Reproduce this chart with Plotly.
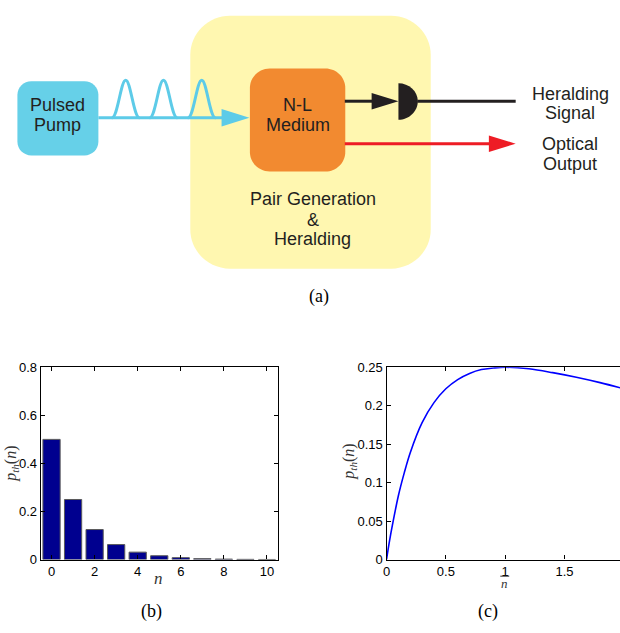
import plotly.graph_objects as go

W, H = 620, 633

# ---------------- data ----------------
n_vals = [0, 1, 2, 3, 4, 5, 6, 7, 8, 9, 10]
p_th_n = [0.5, 0.25, 0.125, 0.0625, 0.031, 0.016, 0.008, 0.004, 0.002, 0.001, 0.0005]

nbar_vals = [0, 0.025, 0.05, 0.1, 0.15, 0.2, 0.3, 0.4, 0.5, 0.6, 0.7, 0.8, 0.9, 1.0,
             1.2, 1.4, 1.6, 1.8, 2.0]
p_th_nbar = [0, 0.024, 0.045, 0.083, 0.113, 0.139, 0.178, 0.204, 0.222, 0.234, 0.242,
             0.247, 0.249, 0.25, 0.248, 0.243, 0.237, 0.230, 0.222]

b_xticks = [0, 2, 4, 6, 8, 10]
b_yticks = [0, 0.2, 0.4, 0.6, 0.8]
c_xticks = [0, 0.5, 1, 1.5]
c_xticklabels = ["0", "0.5", "1", "1.5"]
c_yticks = [0, 0.05, 0.1, 0.15, 0.2, 0.25]

SANS = "Liberation Sans, Arial, Helvetica, sans-serif"
SERIF = "Liberation Serif, DejaVu Serif, serif"
TXT = "#231F20"


def px(x):
    return x / W


def py(y):
    return 1 - y / H


fig = go.Figure()

# (b) bar chart
fig.add_trace(go.Bar(x=n_vals, y=p_th_n, width=0.8,
                     marker=dict(color="#00008F", line=dict(color="#5a5a5a", width=1)),
                     xaxis="x", yaxis="y", showlegend=False))
# (c) curve
fig.add_trace(go.Scatter(x=nbar_vals, y=p_th_nbar, mode="lines",
                         line=dict(color="#0000FF", width=1.6, shape="spline"),
                         xaxis="x2", yaxis="y2", showlegend=False))
# diagram axis anchor
fig.add_trace(go.Scatter(x=[0], y=[0], mode="markers", marker=dict(opacity=0),
                         xaxis="x3", yaxis="y3", showlegend=False, hoverinfo="skip"))

axis_common = dict(showgrid=False, zeroline=False, ticks="inside", ticklen=4,
                   linecolor="black", linewidth=1.2, tickcolor="black",
                   tickfont=dict(family=SANS, size=13, color="black"))

fig.update_layout(
    width=W, height=H, margin=dict(l=0, r=0, t=0, b=0),
    paper_bgcolor="white", plot_bgcolor="white", showlegend=False,
    bargap=0.2,
    xaxis=dict(domain=[px(37), px(275.5)], range=[-0.5, 10.5], tickvals=b_xticks,
               mirror="ticks", anchor="y", showline=True, **axis_common),
    yaxis=dict(domain=[py(566), py(369)], range=[0, 0.8], tickvals=b_yticks,
               mirror="ticks", anchor="x", showline=True, **axis_common),
    xaxis2=dict(domain=[px(385), 1], range=[0, 1.968], tickvals=c_xticks,
                ticktext=c_xticklabels, mirror="ticks", anchor="y2", showline=True,
                **axis_common),
    yaxis2=dict(domain=[py(566), py(369)], range=[0, 0.25], tickvals=c_yticks,
                mirror=False, anchor="x2", showline=True, **axis_common),
    xaxis3=dict(domain=[0, 1], range=[0, 620], visible=False, fixedrange=True, anchor="y3"),
    yaxis3=dict(domain=[py(300), 1], range=[300, 0], visible=False, fixedrange=True, anchor="x3"),
)


def rrect(x0, y0, x1, y1, r):
    k = 0.55 * r
    return (f"M {x0+r} {y0} L {x1-r} {y0} C {x1-r+k} {y0} {x1} {y0+r-k} {x1} {y0+r} "
            f"L {x1} {y1-r} C {x1} {y1-r+k} {x1-r+k} {y1} {x1-r} {y1} "
            f"L {x0+r} {y1} C {x0+r-k} {y1} {x0} {y1-r+k} {x0} {y1-r} "
            f"L {x0} {y0+r} C {x0} {y0+r-k} {x0+r-k} {y0} {x0+r} {y0} Z")


shapes = []


def dshape(path, fill=None, line_color=None, lw=0):
    shapes.append(dict(type="path", path=path, xref="x3", yref="y3",
                       fillcolor=fill if fill else "rgba(0,0,0,0)",
                       line=dict(color=line_color if line_color else "rgba(0,0,0,0)", width=lw),
                       layer="above"))


def dline(x0, y0, x1, y1, color, lw):
    shapes.append(dict(type="line", x0=x0, y0=y0, x1=x1, y1=y1, xref="x3", yref="y3",
                       line=dict(color=color, width=lw), layer="above"))


CYAN = "#5DCBE8"
# boxes
dshape(rrect(187.5, 9, 429.5, 268, 40), fill="#FFF7B0")
dshape(rrect(13.5, 76, 95, 152, 14), fill="#66D0E8")
dshape(rrect(247.5, 63, 343.5, 168.5, 20), fill="#F28A30")

# pump line and pulses
dline(95, 113.5, 224, 113.5, CYAN, 3)
for pk in [122.5, 160.5, 199]:
    dshape(f"M {pk-14} 113.5 C {pk-8} 113.5 {pk-5} 75 {pk} 75 C {pk+5} 75 {pk+8} 113.5 {pk+14} 113.5",
           line_color=CYAN, lw=3)
dshape("M 219 104.5 L 247 113.5 L 219 122.5 Z", fill=CYAN)

# herald line, arrow and detector
dline(343, 96.5, 372, 96.5, "#231F20", 3)
dshape("M 370 88 L 397 96.5 L 370 105 Z", fill="#231F20")
dshape("M 397 78 C 407.5 78 416.5 86 416.5 96.5 C 416.5 107 407.5 115.5 397 115.5 Z", fill="#231F20")
dline(416, 96.5, 515, 96.5, "#231F20", 3)

# optical output
dline(343, 140, 492, 140, "#EE1C25", 3)
dshape("M 488 131.5 L 515 140 L 488 148.5 Z", fill="#EE1C25")

# bar of the x label of (c)
shapes.append(dict(type="line", xref="paper", yref="paper", x0=px(499.5), x1=px(508.5),
                   y0=py(583), y1=py(583), line=dict(color="#333", width=1)))

fig.update_layout(shapes=shapes)

ann = []


def dtext(x, y, t, size=18):
    ann.append(dict(x=x, y=y, xref="x3", yref="y3", text=t, showarrow=False,
                    xanchor="center", yanchor="middle",
                    font=dict(family=SANS, size=size, color=TXT)))


dtext(54, 100, "Pulsed")
dtext(54, 120.5, "Pump")
dtext(295.5, 100, "N-L")
dtext(295.5, 121, "Medium")
dtext(311, 197, "Pair Generation")
dtext(311, 218, "&amp;")
dtext(311, 238, "Heralding")
dtext(570, 89, "Heralding")
dtext(570, 109, "Signal")
dtext(570, 140.5, "Optical")
dtext(570, 161, "Output")


def ptext(x, y, t, size=18, family=SERIF, color="black", angle=0, pad=1):
    ann.append(dict(x=px(x), y=py(y), xref="paper", yref="paper", text=t, showarrow=False,
                    xanchor="center", yanchor="middle", textangle=angle, borderpad=pad,
                    font=dict(family=family, size=size, color=color)))


ptext(317, 297, "(a)")
ptext(148, 619, "(b)")
ptext(487.5, 619, "(c)")
ptext(8, 468, "<i>p</i><sub><i>th</i></sub>(<i>n</i>)", size=16, color="#333", angle=-90)
ptext(348, 466, "<i>p</i><sub><i>th</i></sub>(<i>n</i>)", size=16, color="#333", angle=-90)
ptext(155, 585, "<i>n</i>", size=17, color="#333")
ptext(504, 591, "<i>n</i>", size=13, color="#333", pad=0)

fig.update_layout(annotations=ann)

fig.write_html("out.html", config={"displayModeBar": False},
               post_script="document.body.style.margin='0';document.body.style.overflow='hidden';")
